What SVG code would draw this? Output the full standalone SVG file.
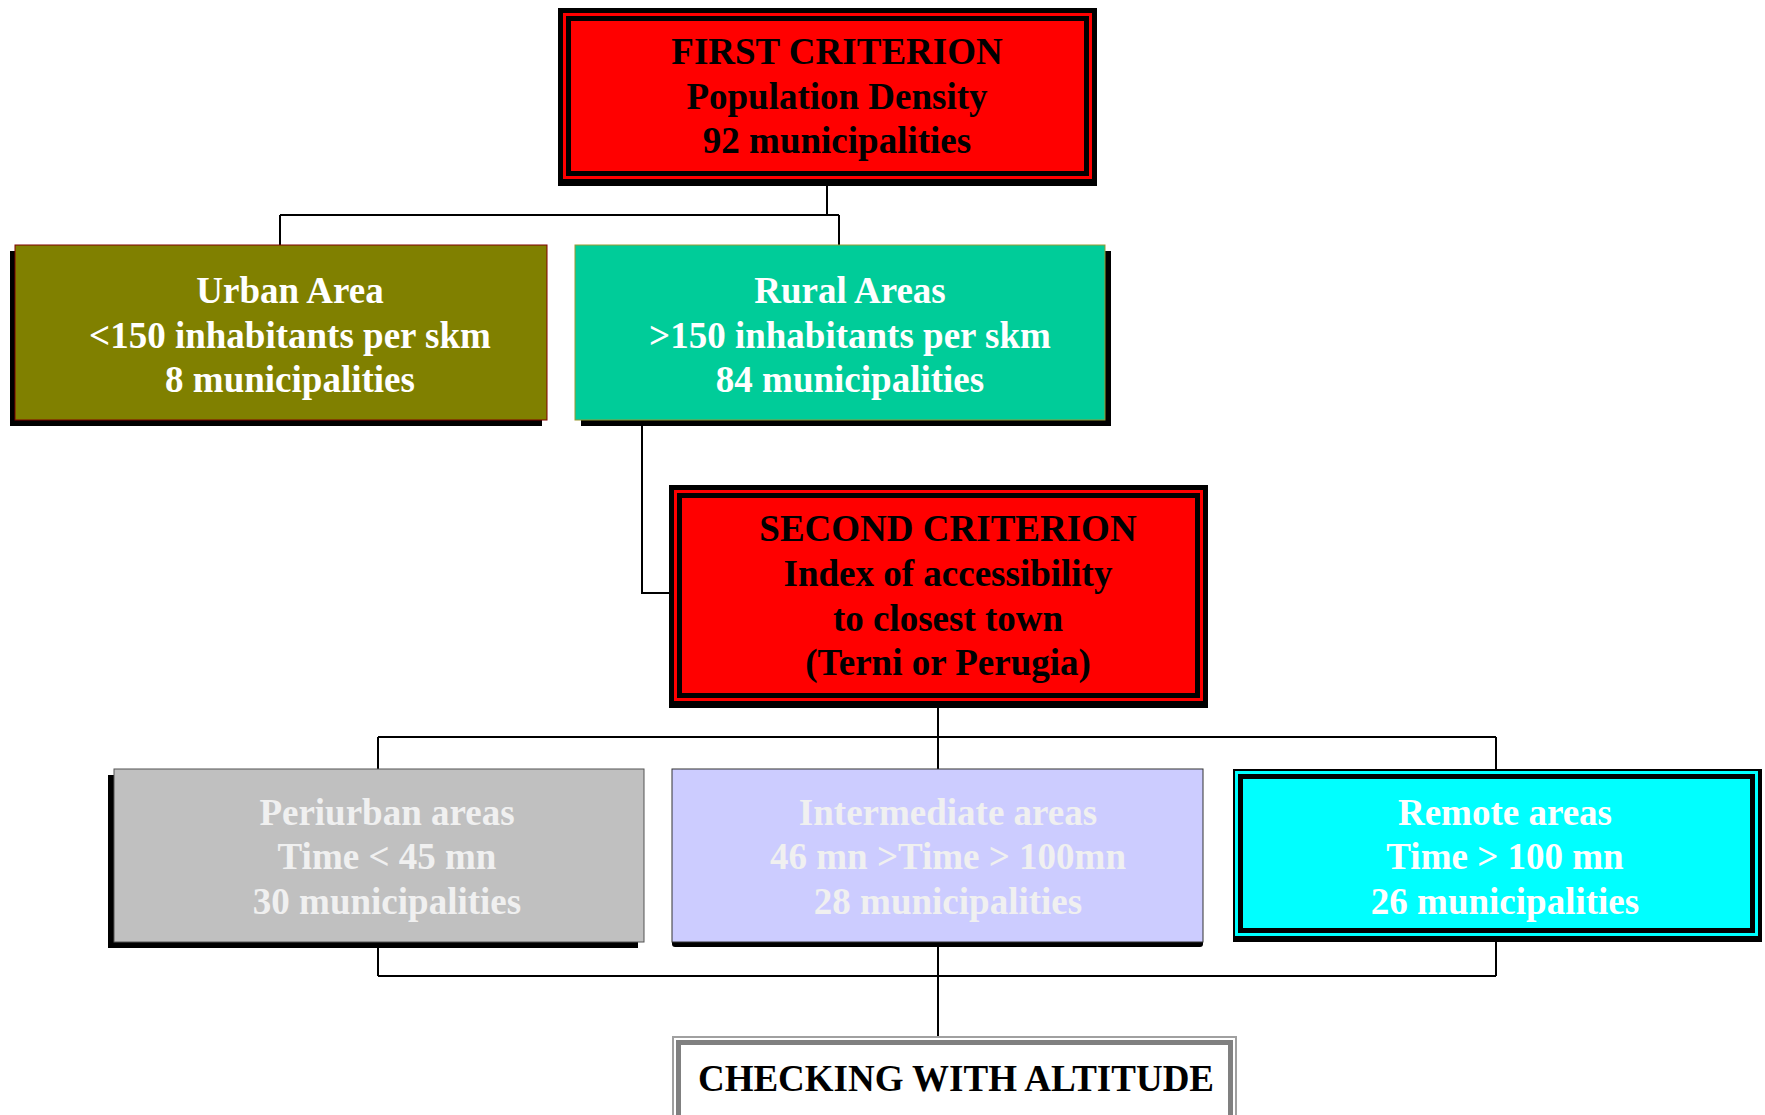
<svg xmlns="http://www.w3.org/2000/svg" width="1765" height="1115" viewBox="0 0 1765 1115">
<style>
text{font-family:"Liberation Serif","Times New Roman",serif;font-weight:bold;font-size:37px;text-anchor:middle}
.dk{fill:#000}
.wt{fill:#FFFFFF}
.lt{fill:#F0F0F0}
.blk{fill:#000}
.red{fill:#FF0000}
.redband{fill:#FF0000;stroke:#000;stroke-width:5}
.cyan{fill:#00FFFF}
.cyanband{fill:#00FFFF;stroke:#000;stroke-width:5}
.conn{fill:none;stroke:#000;stroke-width:2}
</style>
<rect width="1765" height="1115" fill="#fff"/>
<g id="connectors">
<path class="conn" d="M827 186 V215 M280 215 H839 M280 215 V245 M839 215 V245"/>
<path class="conn" d="M642 426 V593 H671"/>
<path class="conn" d="M938 708 V737 M378 737 H1496 M378 737 V769 M938 737 V769 M1496 737 V769"/>
<path class="conn" d="M378 942 V976 M938 942 V976 M1496 942 V976 M378 976 H1496 M938 976 V1036"/>
</g>
<g id="first-criterion">
<rect class="blk" x="558" y="8" width="539" height="178"/>
<rect class="red" x="563" y="13" width="529" height="166"/>
<rect class="redband" x="568.5" y="18.5" width="518" height="155"/>
<text class="dk" x="837" y="64">FIRST CRITERION</text>
<text class="dk" x="837" y="109">Population Density</text>
<text class="dk" x="837" y="153">92 municipalities</text>
</g>
<g id="urban-area">
<rect class="blk" x="10" y="251" width="532" height="175"/>
<rect x="15" y="245" width="532" height="175" fill="#808000" stroke="#800000" stroke-width="1"/>
<text class="wt" x="290" y="303">Urban Area</text>
<text class="wt" x="290" y="348">&lt;150 inhabitants per skm</text>
<text class="wt" x="290" y="392">8 municipalities</text>
</g>
<g id="rural-areas">
<rect class="blk" x="581" y="251" width="530" height="175"/>
<rect x="575" y="245" width="530" height="175" fill="#00CC99" stroke="#999933" stroke-width="1"/>
<text class="wt" x="850" y="303">Rural Areas</text>
<text class="wt" x="850" y="348">&gt;150 inhabitants per skm</text>
<text class="wt" x="850" y="392">84 municipalities</text>
</g>
<g id="second-criterion">
<rect class="blk" x="669" y="485" width="539" height="223"/>
<rect class="red" x="674" y="490" width="529" height="211"/>
<rect class="redband" x="679.5" y="495.5" width="518" height="200"/>
<text class="dk" x="948" y="541">SECOND CRITERION</text>
<text class="dk" x="948" y="586">Index of accessibility</text>
<text class="dk" x="948" y="631">to closest town</text>
<text class="dk" x="948" y="675">(Terni or Perugia)</text>
</g>
<g id="periurban-areas">
<rect class="blk" x="108" y="775" width="530" height="173"/>
<rect x="114" y="769" width="530" height="173" fill="#C0C0C0" stroke="#555" stroke-width="1"/>
<text class="lt" x="387" y="825">Periurban areas</text>
<text class="lt" x="387" y="869">Time &lt; 45 mn</text>
<text class="lt" x="387" y="914">30 municipalities</text>
</g>
<g id="intermediate-areas">
<rect class="blk" x="672" y="774" width="531" height="173" rx="3"/>
<rect x="672" y="769" width="531" height="173" fill="#CCCCFF" stroke="#333" stroke-width="1"/>
<text class="lt" x="948" y="825">Intermediate areas</text>
<text class="lt" x="948" y="869">46 mn &gt;Time &gt; 100mn</text>
<text class="lt" x="948" y="914">28 municipalities</text>
</g>
<g id="remote-areas">
<rect class="blk" x="1233" y="769" width="529" height="173"/>
<rect class="cyan" x="1235" y="771" width="523" height="165"/>
<rect class="cyanband" x="1240.5" y="776.5" width="512" height="154"/>
<text class="wt" x="1505" y="825">Remote areas</text>
<text class="wt" x="1505" y="869">Time &gt; 100 mn</text>
<text class="wt" x="1505" y="914">26 municipalities</text>
</g>
<g id="checking-altitude">
<rect x="673" y="1037" width="563" height="100" fill="#fff" stroke="#A0A0A0" stroke-width="2"/>
<rect x="678.5" y="1042.5" width="552" height="100" fill="#fff" stroke="#808080" stroke-width="5"/>
<text class="dk" x="956" y="1091">CHECKING WITH ALTITUDE</text>
</g>
</svg>
